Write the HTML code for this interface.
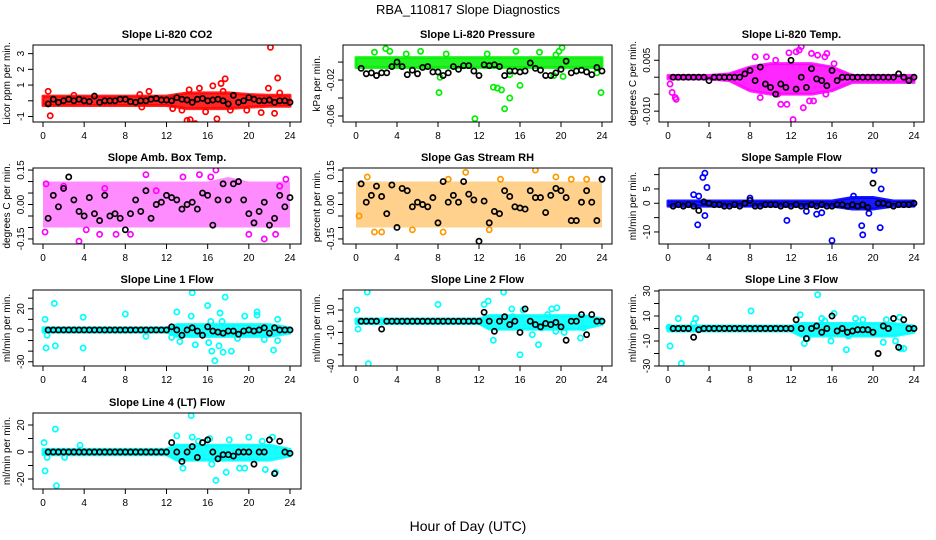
<!DOCTYPE html>
<html><head><meta charset="utf-8">
<style>
html,body{margin:0;padding:0;background:#fff;}
svg{display:block;font-family:"Liberation Sans",sans-serif;}
</style></head>
<body>
<svg id="chart" width="936" height="540" viewBox="0 0 936 540" xmlns="http://www.w3.org/2000/svg">
<rect width="936" height="540" fill="#fff"/>
<text x="468" y="14" text-anchor="middle" font-size="13">RBA_110817  Slope Diagnostics</text>
<text x="468" y="531" text-anchor="middle" font-size="14">Hour of Day (UTC)</text>
</svg>
<script>
const HOURS=[0.5,1,1.5,2,2.5,3,3.5,4,4.5,5,5.5,6,6.5,7,7.5,8,8.5,9,9.5,10,10.5,11,11.5,12,12.5,13,13.5,14,14.5,15,15.5,16,16.5,17,17.5,18,18.5,19,19.5,20,20.5,21,21.5,22,22.5,23,23.5,24];
const XTICKS=[0,4,8,12,16,20,24];
const FLAT=[0,0,0,0,0,0,0,0,0,0,0,0,0,0,0,0,0,0,0,0,0,0,0,0];

const TITLES=["Slope Li-820 CO2","Slope Li-820 Pressure","Slope Li-820 Temp.","Slope Amb. Box Temp.","Slope Gas Stream RH","Slope Sample Flow","Slope Line 1 Flow","Slope Line 2 Flow","Slope Line 3 Flow","Slope Line 4 (LT) Flow"];
const YLABELS=["Licor ppm per min.","kPa per min.","degrees C per min.","degrees C per min.","percent per min.","ml/min per min.","ml/min per min.","ml/min per min.","ml/min per min.","ml/min per min."];

const BLACK_CO2=[-0.2,0.1,-0.1,0,0.1,0,0.1,0,-0.05,0.3,-0.1,0,0,0,0.1,0.1,-0.05,-0.1,0,0,0.1,0.15,0.05,0.05,0,0.2,0.1,0.05,-0.1,0.1,0.15,0,0.05,0.1,0,-0.2,0.35,-0.1,0,0.2,0.1,0,0,0.05,-0.1,0,0,-0.1];
const BLACK_PRES=[-0.007,-0.013,-0.012,-0.015,-0.012,-0.012,-0.005,0,-0.005,-0.014,-0.009,-0.013,-0.006,-0.005,-0.011,-0.011,-0.015,-0.012,-0.005,-0.008,-0.004,-0.004,-0.01,-0.015,-0.003,-0.004,-0.003,-0.005,-0.015,-0.01,-0.01,-0.011,-0.01,-0.001,-0.007,-0.009,-0.015,-0.015,-0.012,-0.008,0.001,-0.012,-0.01,-0.009,-0.011,-0.014,-0.006,-0.01];
const BLACK_TEMP=[0,0,0,0,0,0,0,-0.001,0,0,0,0,0,0,0.001,0.002,-0.001,0.003,-0.002,-0.003,-0.005,-0.002,-0.003,0.005,-0.0035,0,-0.003,0.0025,-0.0005,-0.001,-0.0025,0.002,-0.001,0,0,0,0,0,0,0,0,0,0,0,0.001,0,-0.001,0];
const BLACK_AMB=[-0.06,0.04,-0.01,0.07,0.12,0.02,-0.03,-0.05,0.03,-0.04,-0.07,0.04,-0.05,-0.04,-0.06,-0.11,-0.04,0.02,-0.03,0.06,-0.06,0,0.01,0.04,0.03,0.02,-0.02,0,0.01,-0.02,0.05,0.04,-0.09,0.02,0.09,0.02,0.09,0.1,0.02,-0.04,-0.08,-0.03,0.01,-0.09,-0.06,0.04,-0.01,0.03];
const BLACK_RH=[0.09,0.01,0.04,0.08,0.035,-0.04,0.085,-0.1,0.07,0.06,-0.01,0.01,0,-0.01,0.03,-0.08,0.1,0.01,0.04,0.01,0.1,0.045,0.02,-0.16,0.015,-0.08,-0.03,-0.04,0.06,0.035,-0.01,-0.015,-0.02,0.06,0.03,0.03,-0.035,0.04,0.07,0.06,0.03,-0.07,-0.07,0.01,0.06,0.01,-0.07,0.11];
const BLACK_SAMPLE=[-1,-0.5,-1,-0.5,-1,-2.5,0.5,0,-0.5,-0.5,-1,-1,-0.5,-1,0,1,-1,-1,-0.5,-0.5,-0.5,-1,-0.5,-1,-0.5,-1,-1,-0.5,-1,-0.5,-1,-1,-0.5,-0.5,-1,-0.5,-1,-0.5,-1.5,7,0,0,-0.5,-1,-0.5,-0.5,-0.5,0];
const BLACK_L1=FLAT.concat([3,0,-5,0,2,-1,-5,3,-1,-2,-3,-1,-1,-4,-1,0,-1,0,2,-3,2,0,0,0]);
const BLACK_L2=[0,0,0,0,-7,0,0,0,0,0,0,0,0,0,0,0,0,0,0,0,0,0,0,0].concat([8,0,-9,0,4,-3,0,-10,11,0,-3,-5,-2,-3,-1,-5,-17,0,0,6,-12,6,0,0]);
const BLACK_L3=[0,0,0,0,-7,-1,0,0,0,0,0,0,0,0,0,0,0,0,0,0,0,0,0,0].concat([7,0,-8,0,2,-3,0,10,-2,0,-3,-2,-1,-1,-1,-3,-20,2,0,8,-15,7,0,0]);
const BLACK_L4=FLAT.concat([7,0,-7,0,4,-4,7,9,0,-5,-2,-2,-3,0,0,0,-9,0,0,9,-16,8,0,-1]);

const BAND_H=[0,2,4,6,8,10,12,13,14,16,18,20,22,24];
const BAND_LO=[[-0.3,-0.3,-0.3,-0.3,-0.3,-0.3,-0.3,-0.4,-0.5,-0.5,-0.5,-0.4,-0.35,-0.35],[-0.006,-0.006,-0.006,-0.006,-0.006,-0.006,-0.006,-0.006,-0.006,-0.006,-0.006,-0.006,-0.006,-0.006],[-0.0005,-0.0005,-0.0005,-0.001,-0.004,-0.005,-0.005,-0.005,-0.005,-0.004,-0.0015,-0.0015,-0.0015,-0.0015],[-0.1,-0.1,-0.1,-0.1,-0.1,-0.1,-0.1,-0.1,-0.1,-0.1,-0.1,-0.1,-0.1,-0.1],[-0.1,-0.1,-0.1,-0.1,-0.1,-0.1,-0.1,-0.1,-0.1,-0.1,-0.1,-0.1,-0.1,-0.1],[-1,-1,-1,-1,-1,-1,-1,-1,-1,-1,-2,-2,-1,-1],[-2,-2,-2,-2,-2,-2,-2,-6,-6,-6,-6,-6,-6,-3],[-2,-2,-2,-2,-2,-2,-2,-7,-7,-7,-7,-7,-7,-3],[-2,-2,-2,-2,-2,-2,-2,-6,-6,-6,-6,-6,-6,-3],[-2,-2,-2,-2,-2,-2,-2,-6,-6,-6,-6,-6,-6,-3]];
const BAND_HI=[[0.3,0.3,0.3,0.3,0.3,0.3,0.3,0.4,0.5,0.5,0.5,0.4,0.35,0.35],[0.005,0.005,0.005,0.005,0.005,0.005,0.005,0.005,0.005,0.005,0.005,0.005,0.005,0.005],[0.0005,0.0005,0.0005,0.001,0.003,0.004,0.004,0.004,0.004,0.003,0.0005,0.0005,0.0005,0.0005],[0.1,0.1,0.1,0.1,0.1,0.1,0.1,0.1,0.1,0.1,0.12,0.1,0.1,0.1],[0.1,0.1,0.1,0.1,0.1,0.1,0.1,0.1,0.1,0.1,0.1,0.1,0.1,0.1],[0.8,0.8,0.8,0.8,0.8,0.8,0.8,0.8,0.8,0.8,2,2,0.8,0.8],[2,2,2,2,2,2,2,5,5,5,5,5,5,2],[2,2,2,2,2,2,2,5,5,5,5,5,5,2],[2,2,2,2,2,2,2,4,4,4,4,4,4,2],[2,2,2,2,2,2,2,5,5,5,5,5,5,2]];

const OUT_CO2=[[0.5,0.6],[0.7,-0.95],[3,0.35],[10.3,0.6],[9.6,-0.4],[14,-1.25],[14.3,-1.2],[14.8,-1.45],[14.2,0.7],[15.2,0.8],[16.5,0.95],[17.3,1.1],[17.7,1.4],[16.9,-1.15],[17.5,0.6],[18.2,-0.6],[22.1,3.4],[22.8,1.45],[21.9,0.8],[21.2,-0.75],[22.5,-0.8],[15.8,-0.7],[13.5,-0.6],[12.6,-0.5],[19.8,-0.6],[9.4,0.4],[23,0.5]];
const OUT_PRES=[[2.9,0.015],[3.3,0.012],[1.8,0.011],[6.3,0.012],[4.9,0.009],[8.1,-0.034],[8.2,-0.017],[11.6,-0.063],[13.4,-0.028],[13.8,-0.029],[14.2,-0.031],[14.5,-0.052],[15,-0.04],[16,-0.026],[15.6,0.012],[17.9,0.011],[19.5,0.008],[19.8,0.012],[20.1,0.016],[20.2,-0.016],[19.3,-0.015],[23.9,-0.034],[23.5,-0.012],[8.8,0.009],[12.8,0.009],[15,-0.014]];
const OUT_TEMP=[[0.4,-0.0045],[0.7,-0.006],[0.8,-0.0065],[0.2,-0.002],[8.5,0.006],[9.6,0.006],[10.5,0.005],[11,-0.008],[11.6,-0.008],[12.2,-0.0125],[12.5,0.0075],[13.2,-0.009],[13.8,-0.007],[14,0.007],[14.6,0.0065],[15.3,0.006],[15.5,0.007],[16.2,0.004],[15.4,-0.005],[10.7,-0.005],[12.8,0.008],[9,-0.006],[13,0.009],[14.2,-0.007],[11.8,0.0072]];
const OUT_AMB=[[3.5,-0.16],[10,0.13],[13.6,0.12],[16.3,0.12],[16.8,0.15],[15.2,0.13],[0.3,0.09],[0.2,-0.12],[22.6,-0.13],[21.5,-0.15],[20,-0.13],[23.6,0.11],[8.5,-0.13],[5.5,-0.13],[7.1,-0.13],[4.2,-0.11],[2,0.08],[6,0.07],[11,0.06],[19,0.1],[23,0.08]];
const OUT_RH=[[10.7,0.14],[17.5,0.15],[8.5,-0.12],[0.3,-0.05],[1.8,-0.12],[2.5,-0.12],[13,-0.11],[19.5,0.12],[14.1,0.11],[1.1,0.12],[5.5,-0.11],[22.5,0.11],[21,0.11],[9,0.11]];
const OUT_SAMPLE=[[3.4,9],[3.6,10.5],[3.8,5.5],[2.5,3],[3,2.5],[2.9,-7.5],[3.6,-4.3],[11.6,-6],[13.5,-2.8],[14.5,-3.8],[15,-3.3],[16,-13],[18.1,2.5],[18.9,-7.8],[19,-11],[20.1,11.5],[20.8,5],[20.7,-8.5],[19.6,-3.5],[8,1.8]];
const OUT_L1=[[0.2,10],[0.3,-17],[0.4,-5],[1.1,25],[1.2,-15],[3.9,12],[3.9,-17],[10,-6],[8,15],[13,17],[12.5,-7],[13.3,-11],[14.4,13],[14.5,35],[14.8,-14],[16,23],[16.1,-12],[16.4,-20],[16.7,-29],[16.3,8],[17.2,16],[17.1,-15],[17.5,-21],[17.7,31],[17.4,8],[18.3,-20],[18.9,-8],[19.6,13],[20.8,17],[20.8,14],[21.5,-9],[22.4,-19],[22.8,10],[22.8,-10]];
const OUT_L2=[[0.1,10],[0.2,-7],[1.1,26],[1.2,-38],[8,15],[12.5,15],[12.9,18],[13.4,-17],[14.4,26],[15.3,4],[15.2,11],[16,-30],[17.2,-12],[17.8,-21],[19.1,11],[19.6,12],[18.7,6],[18.1,-6],[19.5,-9],[20.3,-10],[16.3,10],[21.9,-15],[22.2,-6]];
const OUT_L3=[[0.1,1],[0.2,-14],[1,8],[1.3,-28],[2.7,8],[2.5,4],[8.1,14],[12.9,11],[13.3,-12],[13.6,-8],[14.6,27],[15,8],[15.3,6],[15.9,-10],[16.2,12],[17.4,-17],[17.6,-6],[18.3,8],[19,7],[21,-11],[21.3,7],[22.2,-10],[22.7,-16],[23,-16],[22.6,9]];
const OUT_L4=[[0.1,7],[0.2,-14],[0.4,-4],[1.2,17],[1.3,-25],[2.1,-4],[3.6,5],[13,12],[13.6,-12],[14.4,27],[14.5,11],[15.1,8],[16.2,10],[16.4,-9],[16.8,-21],[17.8,-15],[18.1,9],[19.1,-12],[19.6,-12],[20,11],[21.3,8],[21.6,-13],[22.3,11],[22.6,-15]];

const YTICKS=[[-1,0,1,2,3],[-0.06,-0.04,-0.02,0],[-0.01,-0.005,0,0.005],[-0.15,-0.1,-0.05,0,0.05,0.1,0.15],[-0.15,-0.1,-0.05,0,0.05,0.1,0.15],[-10,-5,0,5,10],[-30,-20,-10,0,10,20,30],[-40,-30,-20,-10,0,10,20],[-30,-20,-10,0,10,20,30],[-20,-10,0,10,20]];
const YTICKLABELS=[["-1","","1","2","3"],["-0.06","","-0.02",""],["-0.010","","","0.005"],["-0.15","","","0.00","","","0.15"],["-0.15","","","0.00","","","0.15"],["-10","","0","5",""],["-30","","","0","","20",""],["-40","","","-10","","10",""],["-30","","-10","","10","","30"],["-20","","0","","20"]];

const PANELS=[
 {box:[33,45,301,122],x0:43,x1:290,ylim:[-1.35,3.55],col:"#ff0000",band:0.85,bs:3,black:BLACK_CO2,out:OUT_CO2},
 {box:[343,45,612,122],x0:356,x1:602,ylim:[-0.0667,0.019],col:"#00ee00",band:0.85,bs:3,black:BLACK_PRES,out:OUT_PRES},
 {box:[659,45,924,122],x0:668,x1:914,ylim:[-0.0132,0.0095],col:"#ff00ff",band:0.85,bs:3,black:BLACK_TEMP,out:OUT_TEMP},
 {box:[33,168,301,244],x0:43,x1:290,ylim:[-0.172,0.159],col:"#ff00ff",band:0.45,bs:0,black:BLACK_AMB,out:OUT_AMB},
 {box:[343,168,612,244],x0:356,x1:602,ylim:[-0.172,0.159],col:"#ff9900",band:0.45,bs:0,black:BLACK_RH,out:OUT_RH},
 {box:[659,168,924,244],x0:668,x1:914,ylim:[-14.2,12.3],col:"#0000ff",band:0.9,bs:3,black:BLACK_SAMPLE,out:OUT_SAMPLE},
 {box:[33,290,301,366],x0:43,x1:290,ylim:[-34,37.7],col:"#00ffff",band:0.9,bs:3,black:BLACK_L1,out:OUT_L1},
 {box:[343,290,612,366],x0:356,x1:602,ylim:[-40,27.9],col:"#00ffff",band:0.9,bs:3,black:BLACK_L2,out:OUT_L2},
 {box:[659,290,924,366],x0:668,x1:914,ylim:[-30,30.8],col:"#00ffff",band:0.9,bs:3,black:BLACK_L3,out:OUT_L3},
 {box:[33,413,301,489],x0:43,x1:290,ylim:[-27.4,28.9],col:"#00ffff",band:0.9,bs:3,black:BLACK_L4,out:OUT_L4}
];

const NS="http://www.w3.org/2000/svg";
const svg=document.getElementById('chart');
function mk(tag,attrs,parent){const e=document.createElementNS(NS,tag);for(const k in attrs)e.setAttribute(k,attrs[k]);(parent||svg).appendChild(e);return e;}

PANELS.forEach((p,i)=>{
  const [L,T,R,B]=p.box;
  const g=mk('g',{});
  
  
  const xs=h=>p.x0+(h/24)*(p.x1-p.x0);
  const ys=v=>B-(v-p.ylim[0])/(p.ylim[1]-p.ylim[0])*(B-T);
  const clip='clip'+i;
  const cp=mk('clipPath',{id:clip},g);mk('rect',{x:L,y:T,width:R-L,height:B-T},cp);
  const plot=mk('g',{'clip-path':'url(#'+clip+')'},g);
  let pts=BAND_H.map((h,k)=>xs(h)+','+ys(BAND_HI[i][k]));
  pts=pts.concat(BAND_H.slice().reverse().map((h,k)=>xs(h)+','+ys(BAND_LO[i][BAND_H.length-1-k])));
  const band=mk('polygon',{points:pts.join(' '),fill:p.col,'fill-opacity':p.band,stroke:p.col,'stroke-width':p.bs,'stroke-linejoin':'round','stroke-opacity':p.band},plot);
  
  
  p.out.forEach(([h,v])=>{
    const c=mk('circle',{cx:xs(h),cy:ys(v),r:2.6,fill:'none',stroke:p.col,'stroke-width':1.7},plot);
    
    
  });
  HOURS.forEach((h,k)=>{
    const c=mk('circle',{cx:xs(h),cy:ys(p.black[k]),r:2.6,fill:'none',stroke:'#000','stroke-width':1.7},plot);
    
    
  });
  const box=mk('rect',{x:L,y:T,width:R-L,height:B-T,fill:'none',stroke:'#000','stroke-width':1},g);
  
  
  const t=mk('text',{x:(L+R)/2,y:T-7,'text-anchor':'middle','font-size':11,'font-weight':'bold'},g);
  t.textContent=TITLES[i];
  
  
  XTICKS.forEach(h=>{
    mk('line',{x1:xs(h),x2:xs(h),y1:B,y2:B+5,stroke:'#000'},g);
    const tl=mk('text',{x:xs(h),y:B+17,'text-anchor':'middle','font-size':10},g);
    tl.textContent=h;
    
    
  });
  YTICKS[i].forEach((v,k)=>{
    const y=ys(v);
    mk('line',{x1:L-5,x2:L,y1:y,y2:y,stroke:'#000'},g);
    const lab=YTICKLABELS[i][k];
    if(lab){
      const tl=mk('text',{x:L-9,y:y,'text-anchor':'middle','font-size':10,transform:'rotate(-90 '+(L-9)+' '+y+')'},g);
      tl.textContent=lab;
      
      
    }
  });
  const ylab=mk('text',{x:L-23,y:(T+B)/2,'text-anchor':'middle','font-size':10,transform:'rotate(-90 '+(L-23)+' '+((T+B)/2)+')'},g);
  ylab.textContent=YLABELS[i];
  
  
});
</script>
</body></html>
